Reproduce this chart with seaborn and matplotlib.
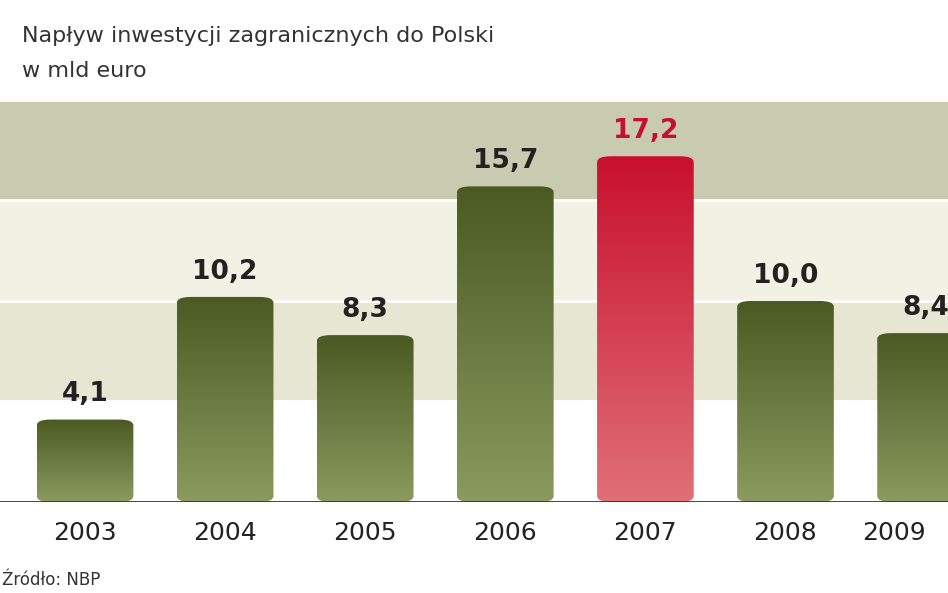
import numpy as np
import pandas as pd
import matplotlib
matplotlib.use("Agg")
import matplotlib.pyplot as plt
import seaborn as sns
from matplotlib.patches import FancyBboxPatch
from matplotlib.colors import LinearSegmentedColormap

years = ["2003", "2004", "2005", "2006", "2007", "2008", "2009"]
values = [4.1, 10.2, 8.3, 15.7, 17.2, 10.0, 8.4]
labels = ["4,1", "10,2", "8,3", "15,7", "17,2", "10,0", "8,4"]
highlight = "2007"

df = pd.DataFrame({"year": years, "value": values})

fig = plt.figure(figsize=(9.48, 5.93), dpi=100)
ax = fig.add_axes([0, 0.1535, 1, 0.678])
sns.barplot(data=df, x="year", y="value", ax=ax, width=0.69, color="#5a6a2e")
ax.set_xlim(-0.607, 6.16)
ax.set_ylim(0, 20)

# pasy tła
band_cols = ["#ffffff", "#e6e6d2", "#f1f1e4", "#c9cbb0"]
for i, c in enumerate(band_cols):
    ax.axhspan(i * 5, (i + 1) * 5, color=c, zorder=0)
for y in [5, 10, 15, 20]:
    ax.axhline(y, color="white", lw=2, zorder=1)
ax.axhline(0, color="#333333", lw=2, zorder=5)

green = LinearSegmentedColormap.from_list("g", ["#4b5a22", "#8b9a5e"])
red = LinearSegmentedColormap.from_list("r", ["#c8102e", "#e07078"])
grad = np.linspace(0, 1, 256).reshape(-1, 1)

for p, yr, lab in zip(list(ax.patches), years, labels):
    x0, w, h = p.get_x(), p.get_width(), p.get_height()
    p.set_visible(False)
    shape = FancyBboxPatch((x0, 0), w, h, boxstyle="round,pad=0,rounding_size=0.1",
                           mutation_aspect=2.9,
                           facecolor="none", edgecolor="none", zorder=3)
    ax.add_patch(shape)
    cm = red if yr == highlight else green
    im = ax.imshow(grad, cmap=cm, extent=(x0, x0 + w, 0, h), aspect="auto", zorder=3)
    im.set_clip_path(shape)
    ax.text(x0 + w / 2, h + 0.6, lab, ha="center", va="bottom", fontsize=19,
            fontweight="bold", color="#c8102e" if yr == highlight else "#222222", zorder=6)

ax.set_xlabel("")
ax.set_ylabel("")
ax.set_yticks([])
ax.tick_params(axis="x", length=0, pad=14, labelsize=18, labelcolor="#222222")
for t in ax.get_xticklabels():
    t.set_fontweight("medium")
ax.get_xticklabels()[-1].set_horizontalalignment("right")
ax.get_xticklabels()[-1].set_x(6.07)
for s in ax.spines.values():
    s.set_visible(False)

fig.text(0.023, 0.94, "Napływ inwestycji zagranicznych do Polski", fontsize=16, color="#333333", va="center")
fig.text(0.023, 0.88, "w mld euro", fontsize=16, color="#333333", va="center")
fig.text(0.002, 0.022, "Źródło: NBP", fontsize=12, color="#333333", va="center")

fig.savefig("out.png", dpi=100)
